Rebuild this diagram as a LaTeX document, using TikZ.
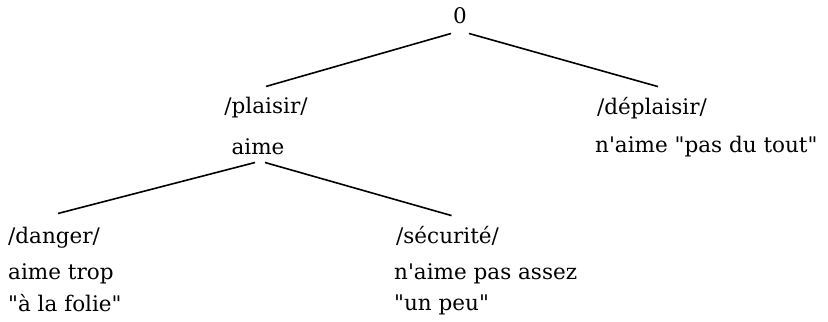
\documentclass[tikz,border=0pt]{standalone}
\usepackage{fontspec}
\setmainfont{DejaVu Serif}[Ligatures=TeXOff]
\usetikzlibrary{positioning}

\begin{document}
\begin{tikzpicture}[x=1bp, y=-1bp, font=\fontsize{21.6}{26}\selectfont,
	branch/.style={line width=1.6bp},
	head/.style={inner xsep=0pt, inner ysep=10bp, anchor=base west},
	txt/.style={inner sep=0pt, anchor=base west}]
	\useasboundingbox (0,0) rectangle (828,321);
	\node[inner xsep=2bp, inner ysep=10bp, anchor=base] (root) at (460,23) {0};
	\node[head, anchor=base] (plaisir) at (266,113) {/plaisir/};
	\node[inner xsep=0pt, inner ysep=8bp, anchor=base] (aime) at (258,154) {aime};
	\node[head] (deplaisir) at (597,114) {/déplaisir/};
	\node[txt] (aimepas) at (595,152) {n'aime "pas du tout"};
	\node[head] (danger) at (8,243) {/danger/};
	\node[txt] (trop) at (8,279) {aime trop};
	\node[txt] (folie) at (8,311) {"à la folie"};
	\node[head] (securite) at (396,243) {/sécurité/};
	\node[txt] (assez) at (394,279) {n'aime pas assez};
	\node[txt] (peu) at (394,310) {"un peu"};
	% branches
	\draw[branch] (root.south west) -- (plaisir.north);
	\draw[branch] (root.south east) -- ([xshift=6bp]deplaisir.north);
	\draw[branch] ([xshift=-3bp]aime.south) -- ([xshift=4bp,yshift=3bp]danger.north);
	\draw[branch] ([xshift=7bp]aime.south) -- ([xshift=4bp]securite.north);
\end{tikzpicture}
\end{document}
